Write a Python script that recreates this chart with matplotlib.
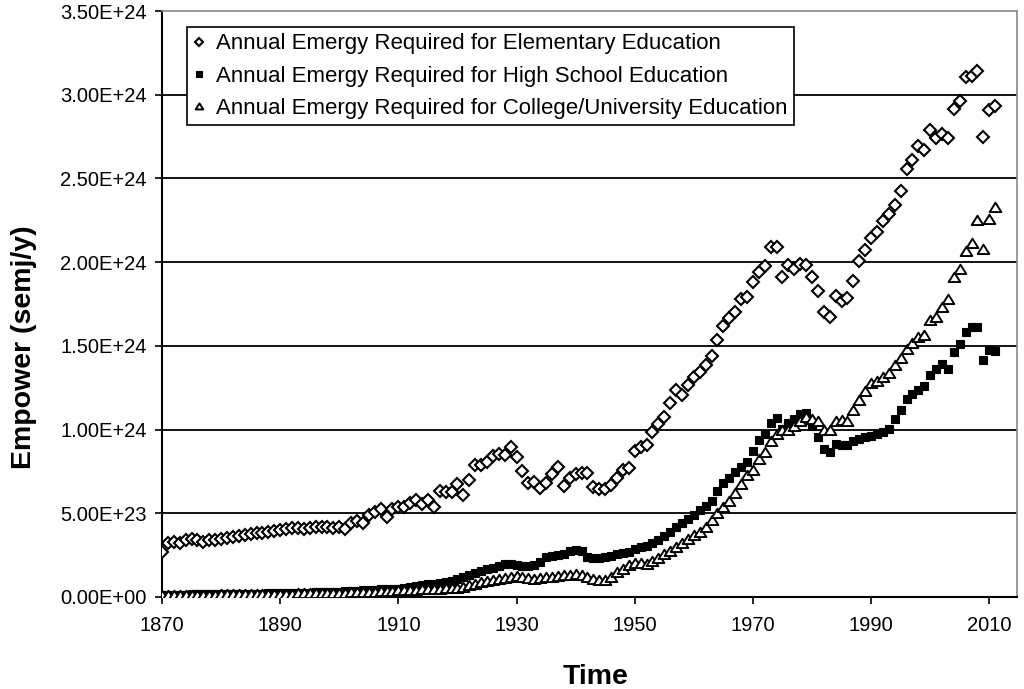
import matplotlib
matplotlib.use("Agg")
import matplotlib.pyplot as plt
from matplotlib.path import Path
import numpy as np

years = list(range(1870, 2012))

elementary = [
    0.269, 0.322, 0.326, 0.322, 0.338, 0.346, 0.338, 0.330, 0.342, 0.338,
    0.348, 0.352, 0.358, 0.366, 0.372, 0.377, 0.381, 0.385, 0.391, 0.397,
    0.401, 0.409, 0.411, 0.411, 0.409, 0.411, 0.417, 0.421, 0.417, 0.415,
    0.417, 0.407, 0.441, 0.451, 0.441, 0.490, 0.510, 0.524, 0.480, 0.524,
    0.536, 0.536, 0.559, 0.579, 0.555, 0.579, 0.536, 0.634, 0.630, 0.625,
    0.676, 0.609, 0.698, 0.787, 0.787, 0.806, 0.840, 0.856, 0.846, 0.895,
    0.836, 0.753, 0.678, 0.688, 0.654, 0.678, 0.737, 0.777, 0.662, 0.708,
    0.737, 0.741, 0.741, 0.658, 0.648, 0.648, 0.668, 0.708, 0.757, 0.773,
    0.875, 0.895, 0.905, 0.984, 1.034, 1.074, 1.160, 1.234, 1.204, 1.268,
    1.314, 1.344, 1.388, 1.440, 1.534, 1.618, 1.668, 1.700, 1.780, 1.794,
    1.880, 1.940, 1.974, 2.088, 2.088, 1.914, 1.980, 1.960, 1.988, 1.980,
    1.910, 1.825, 1.705, 1.675, 1.796, 1.766, 1.786, 1.885, 2.004, 2.073,
    2.143, 2.182, 2.246, 2.287, 2.340, 2.424, 2.558, 2.608, 2.691, 2.667,
    2.790, 2.743, 2.766, 2.743, 2.915, 2.964, 3.103, 3.113, 3.143, 2.747,
    2.909, 2.935,
]

high_school = [
    0.012, 0.013, 0.013, 0.014, 0.014, 0.015, 0.015, 0.015, 0.016, 0.016,
    0.017, 0.017, 0.018, 0.018, 0.019, 0.019, 0.020, 0.020, 0.021, 0.022,
    0.022, 0.023, 0.024, 0.024, 0.025, 0.026, 0.027, 0.028, 0.029, 0.030,
    0.031, 0.033, 0.035, 0.037, 0.039, 0.041, 0.043, 0.045, 0.046, 0.048,
    0.050, 0.056, 0.060, 0.064, 0.070, 0.076, 0.080, 0.086, 0.090, 0.096,
    0.106, 0.120, 0.134, 0.144, 0.156, 0.168, 0.176, 0.184, 0.200, 0.200,
    0.190, 0.184, 0.184, 0.190, 0.210, 0.236, 0.244, 0.250, 0.256, 0.276,
    0.280, 0.276, 0.240, 0.230, 0.230, 0.236, 0.244, 0.256, 0.262, 0.270,
    0.285, 0.298, 0.302, 0.322, 0.338, 0.362, 0.391, 0.421, 0.441, 0.464,
    0.490, 0.520, 0.543, 0.575, 0.634, 0.678, 0.713, 0.747, 0.777, 0.806,
    0.875, 0.939, 0.974, 1.038, 1.069, 1.004, 1.038, 1.063, 1.093, 1.097,
    1.024, 0.956, 0.884, 0.865, 0.914, 0.910, 0.910, 0.930, 0.944, 0.954,
    0.964, 0.974, 0.984, 1.004, 1.064, 1.114, 1.184, 1.214, 1.238, 1.258,
    1.324, 1.364, 1.394, 1.364, 1.464, 1.510, 1.584, 1.610, 1.614, 1.418,
    1.478, 1.470,
]

college = [
    0.010, 0.011, 0.011, 0.012, 0.012, 0.013, 0.013, 0.013, 0.014, 0.014,
    0.015, 0.015, 0.015, 0.016, 0.016, 0.017, 0.017, 0.018, 0.018, 0.019,
    0.019, 0.020, 0.020, 0.021, 0.021, 0.022, 0.022, 0.023, 0.023, 0.024,
    0.025, 0.026, 0.027, 0.028, 0.029, 0.030, 0.032, 0.033, 0.035, 0.037,
    0.039, 0.040, 0.042, 0.043, 0.045, 0.046, 0.048, 0.050, 0.051, 0.053,
    0.056, 0.062, 0.070, 0.080, 0.090, 0.097, 0.104, 0.110, 0.116, 0.120,
    0.124, 0.120, 0.116, 0.110, 0.116, 0.118, 0.120, 0.126, 0.130, 0.133,
    0.136, 0.134, 0.120, 0.110, 0.104, 0.104, 0.120, 0.150, 0.170, 0.190,
    0.204, 0.206, 0.200, 0.213, 0.233, 0.259, 0.275, 0.300, 0.322, 0.346,
    0.372, 0.391, 0.421, 0.460, 0.500, 0.540, 0.575, 0.619, 0.674, 0.727,
    0.760, 0.826, 0.866, 0.931, 0.974, 0.998, 0.998, 1.024, 1.053, 1.073,
    1.063, 1.050, 1.000, 0.996, 1.054, 1.058, 1.054, 1.114, 1.174, 1.228,
    1.278, 1.290, 1.314, 1.338, 1.384, 1.430, 1.484, 1.518, 1.554, 1.564,
    1.654, 1.674, 1.734, 1.778, 1.910, 1.958, 2.064, 2.114, 2.250, 2.078,
    2.258, 2.330,
]

series_labels = [
    "Annual Emergy Required for Elementary Education",
    "Annual Emergy Required for High School Education",
    "Annual Emergy Required for College/University Education",
]

x_ticks = [1870, 1890, 1910, 1930, 1950, 1970, 1990, 2010]
y_ticks = [0.0, 0.5, 1.0, 1.5, 2.0, 2.5, 3.0, 3.5]
y_tick_labels = ["0.00E+00", "5.00E+23", "1.00E+24", "1.50E+24",
                 "2.00E+24", "2.50E+24", "3.00E+24", "3.50E+24"]

plt.rcParams['font.family'] = ['Liberation Sans', 'DejaVu Sans']

fig = plt.figure(figsize=(10.24, 6.89), dpi=100)
ax = fig.add_axes([162 / 1024, 1 - 597 / 689, (1017 - 162) / 1024, (597 - 11) / 689])

scale = 1e24
el = np.array(elementary) * scale
hs = np.array(high_school) * scale
co = np.array(college) * scale

tri = Path([(-1.0, -0.78), (1.0, -0.78), (0.0, 0.82), (-1.0, -0.78)],
           [Path.MOVETO, Path.LINETO, Path.LINETO, Path.CLOSEPOLY])

ax.plot(years, el, linestyle='none', marker='D', markersize=5.8,
        markerfacecolor='white', markeredgecolor='black', markeredgewidth=1.5,
        label=series_labels[0], zorder=3)
ax.plot(years, hs, linestyle='none', marker='s', markersize=5.8,
        markerfacecolor='black', markeredgecolor='black', markeredgewidth=0.8,
        label=series_labels[1], zorder=4)
ax.plot(years, co, linestyle='none', marker=tri, markersize=8.4,
        markerfacecolor='white', markeredgecolor='black', markeredgewidth=1.4,
        label=series_labels[2], zorder=5)

ax.set_xlim(1870, 2014.7)
ax.set_ylim(0, 3.5 * scale)

ax.set_xticks(x_ticks)
ax.set_xticklabels([str(t) for t in x_ticks], fontsize=14.5)
ax.set_yticks([v * scale for v in y_ticks])
ax.set_yticklabels(y_tick_labels, fontsize=14.5)

ax.tick_params(axis='both', direction='out', length=5, width=1.2, colors='black')
ax.tick_params(axis='x', pad=9)
ax.tick_params(axis='y', pad=6)

for v in y_ticks[1:-1]:
    ax.axhline(v * scale, color='black', linewidth=1.3, zorder=1)

ax.spines['left'].set_linewidth(1.5)
ax.spines['bottom'].set_linewidth(1.5)
ax.spines['right'].set_color('#888888')
ax.spines['right'].set_linewidth(1.2)
ax.spines['top'].set_color('#888888')
ax.spines['top'].set_linewidth(1.2)

ax.set_xlabel("Time", fontsize=20.5, fontweight='bold')
ax.set_ylabel("Empower (semj/y)", fontsize=20.5, fontweight='bold')
ax.xaxis.set_label_coords(0.5076, -0.114)
ax.yaxis.set_label_coords(-0.146, 0.427)

leg = ax.legend(loc='upper left', bbox_to_anchor=(0.029, 0.973), borderaxespad=0,
                fontsize=16, frameon=True, fancybox=False, framealpha=1,
                edgecolor='black', handlelength=0.5, handletextpad=0.5,
                markerscale=0.65, borderpad=0.3, labelspacing=0.5)
leg.get_frame().set_linewidth(1.2)
leg.set_zorder(10)

fig.savefig("out.png", dpi=100)
